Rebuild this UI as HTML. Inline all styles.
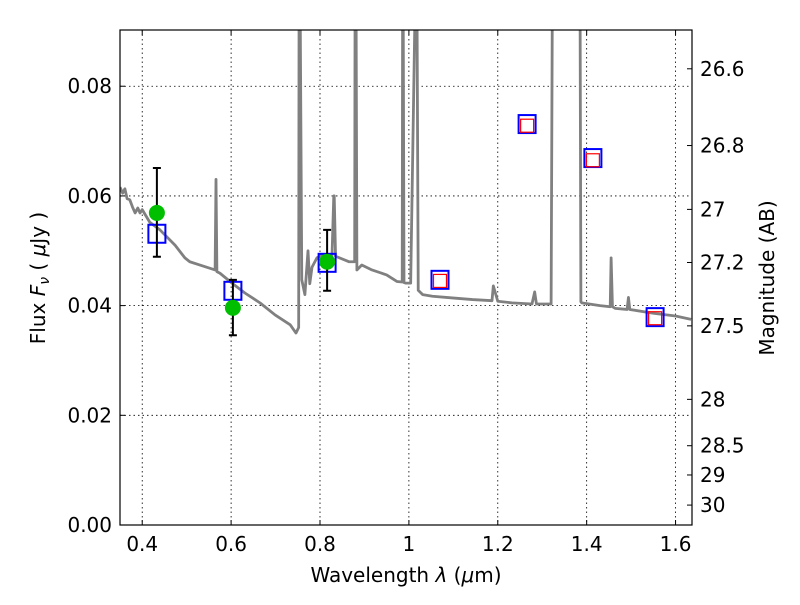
<!DOCTYPE html>
<html><head><meta charset="utf-8"><style>
body{margin:0;background:#fff}
svg text{font-family:"DejaVu Sans","Liberation Sans",sans-serif;fill:#000}
</style></head><body>
<svg id="chart" width="800" height="600" viewBox="0 0 800 600" xmlns="http://www.w3.org/2000/svg">
<g id="grid"></g>
<g id="spec"></g>
<g id="marks"></g>
<rect x="120" y="30" width="572" height="495" fill="none" stroke="#000" stroke-width="1.2"/>
<g id="axes"></g>
<text x="406" y="582" font-size="20" text-anchor="middle">Wavelength  <tspan font-style="italic">λ</tspan> (<tspan font-style="italic">μ</tspan>m)</text>
<text transform="translate(45,278) rotate(-90)" font-size="20" text-anchor="middle">Flux  <tspan font-style="italic">F</tspan><tspan font-style="italic" font-size="14" dy="4">ν</tspan><tspan dy="-4">  (  </tspan><tspan font-style="italic">μ</tspan>Jy )</text>
<text transform="translate(774,278) rotate(-90)" font-size="20" text-anchor="middle">Magnitude (AB)</text>
</svg>
<script>
const specLam=[0.35,0.356,0.361,0.366,0.372,0.378,0.384,0.39,0.395,0.4,0.417,0.44,0.474,0.496,0.507,0.53,0.564,0.566,0.568,0.575,0.602,0.631,0.665,0.699,0.733,0.746,0.752,0.753,0.755,0.759,0.766,0.773,0.777,0.782,0.793,0.804,0.827,0.831,0.832,0.835,0.865,0.878,0.879,0.881,0.883,0.894,0.917,0.95,0.973,0.985,0.986,0.987,0.989,0.993,1.004,1.015,1.018,1.021,1.031,1.053,1.098,1.143,1.187,1.19,1.2,1.232,1.277,1.283,1.287,1.291,1.32,1.323,1.324,1.385,1.387,1.389,1.43,1.453,1.455,1.458,1.464,1.491,1.494,1.497,1.55,1.6,1.635];
const specFlux=[0.0616,0.0605,0.0613,0.0595,0.0593,0.058,0.0569,0.0578,0.0569,0.0575,0.0552,0.0538,0.051,0.0487,0.048,0.0474,0.0465,0.063,0.0462,0.0459,0.0441,0.0423,0.0405,0.0383,0.0365,0.035,0.036,0.1,0.1,0.0447,0.042,0.05,0.044,0.047,0.0487,0.0492,0.049,0.06,0.06,0.049,0.048,0.048,0.1,0.1,0.0465,0.0474,0.0465,0.0456,0.0444,0.0443,0.1,0.1,0.0442,0.0441,0.0441,0.1,0.1,0.0428,0.042,0.0417,0.0414,0.0411,0.0409,0.0436,0.0408,0.0405,0.0403,0.0425,0.0403,0.0403,0.0403,0.1,0.1,0.1,0.0407,0.0405,0.04,0.0398,0.0487,0.0398,0.0395,0.0393,0.0415,0.0393,0.0386,0.0381,0.0375];
const photLam=[0.433,0.604,0.816];
const photFlux=[0.0569,0.0396,0.048];
const photLo=[0.0489,0.0346,0.0427];
const photHi=[0.0651,0.0447,0.0538];
const modelLam=[0.433,0.604,0.816,1.07,1.266,1.414,1.554];
const modelFlux=[0.0531,0.0427,0.0478,0.0447,0.0731,0.0669,0.0379];
const redLam=[1.07,1.266,1.414,1.554];
const redFlux=[0.0445,0.0728,0.0665,0.0377];
const xTicks=[0.4,0.6,0.8,1.0,1.2,1.4,1.6];
const xLabels=["0.4","0.6","0.8","1","1.2","1.4","1.6"];
const yTicks=[0,0.02,0.04,0.06,0.08];
const yLabels=["0.00","0.02","0.04","0.06","0.08"];
const magTicks=[26.6,26.8,27,27.2,27.5,28,28.5,29,30];
const magLabels=["26.6","26.8","27","27.2","27.5","28","28.5","29","30"];
const X0=120,X1=692,Y0=525,Y1=30,LMIN=0.35,LMAX=1.637,FMAX=0.09025;
const sx=l=>X0+(l-LMIN)/(LMAX-LMIN)*(X1-X0);
const sy=f=>Y0-f/FMAX*(Y0-Y1);
const NS="http://www.w3.org/2000/svg";
function mk(p,t,a){const e=document.createElementNS(NS,t);for(const k in a)e.setAttribute(k,a[k]);p.appendChild(e);return e;}
const grid=document.getElementById('grid'),axes=document.getElementById('axes');
xTicks.forEach((v,i)=>{const x=sx(v);
 const g=mk(grid,'line',{x1:x,x2:x,y1:Y1,y2:Y0,stroke:'#000','stroke-width':0.8,'stroke-dasharray':'1.5,3'});
 
 mk(axes,'line',{x1:x,x2:x,y1:Y0,y2:Y0-5,stroke:'#000'});mk(axes,'line',{x1:x,x2:x,y1:Y1,y2:Y1+5,stroke:'#000'});
 const t=mk(axes,'text',{x:x,y:Y0+26,'font-size':20,'text-anchor':'middle'});t.textContent=xLabels[i];
 });
yTicks.forEach((v,i)=>{const y=sy(v);
 const g=mk(grid,'line',{x1:X0,x2:X1,y1:y,y2:y,stroke:'#000','stroke-width':0.8,'stroke-dasharray':'1.5,3'});
 
 mk(axes,'line',{x1:X0,x2:X0+5,y1:y,y2:y,stroke:'#000'});
 const t=mk(axes,'text',{x:X0-8,y:y+7,'font-size':20,'text-anchor':'end'});t.textContent=yLabels[i];
 });
magTicks.forEach((m,i)=>{const y=sy(Math.pow(10,(23.9-m)/2.5));
 mk(axes,'line',{x1:X1,x2:X1-5,y1:y,y2:y,stroke:'#000'});
 const t=mk(axes,'text',{x:X1+8,y:y+7,'font-size':20});t.textContent=magLabels[i];
 });
const spec=document.getElementById('spec');
const cp=mk(spec,'clipPath',{id:'clp'});
mk(cp,'rect',{x:X0,y:Y1,width:X1-X0,height:Y0-Y1});
const pl=mk(spec,'polyline',{points:specLam.map((l,i)=>sx(l)+','+sy(specFlux[i])).join(' '),fill:'none',stroke:'#808080','stroke-width':2.8,'clip-path':'url(#clp)','stroke-linejoin':'round'});

const marks=document.getElementById('marks');
modelLam.forEach((l,i)=>{const x=sx(l),y=sy(modelFlux[i]);
 const r=mk(marks,'rect',{x:x-8.5,y:y-9,width:17,height:18,fill:'none',stroke:'#0000ff','stroke-width':2});
 });
redLam.forEach((l,i)=>{const x=sx(l),y=sy(redFlux[i]);
 const r=mk(marks,'rect',{x:x-6.5,y:y-6.5,width:13,height:13,fill:'none',stroke:'#ff0000','stroke-width':1.2});
 });
photLam.forEach((l,i)=>{const x=sx(l);
 const e=mk(marks,'path',{d:`M${x},${sy(photLo[i])}V${sy(photHi[i])}M${x-4},${sy(photLo[i])}h8M${x-4},${sy(photHi[i])}h8`,stroke:'#000','stroke-width':2,fill:'none'});
 
 const c=mk(marks,'circle',{cx:x,cy:sy(photFlux[i]),r:8,fill:'#00bf00'});
 });
</script>
</body></html>
